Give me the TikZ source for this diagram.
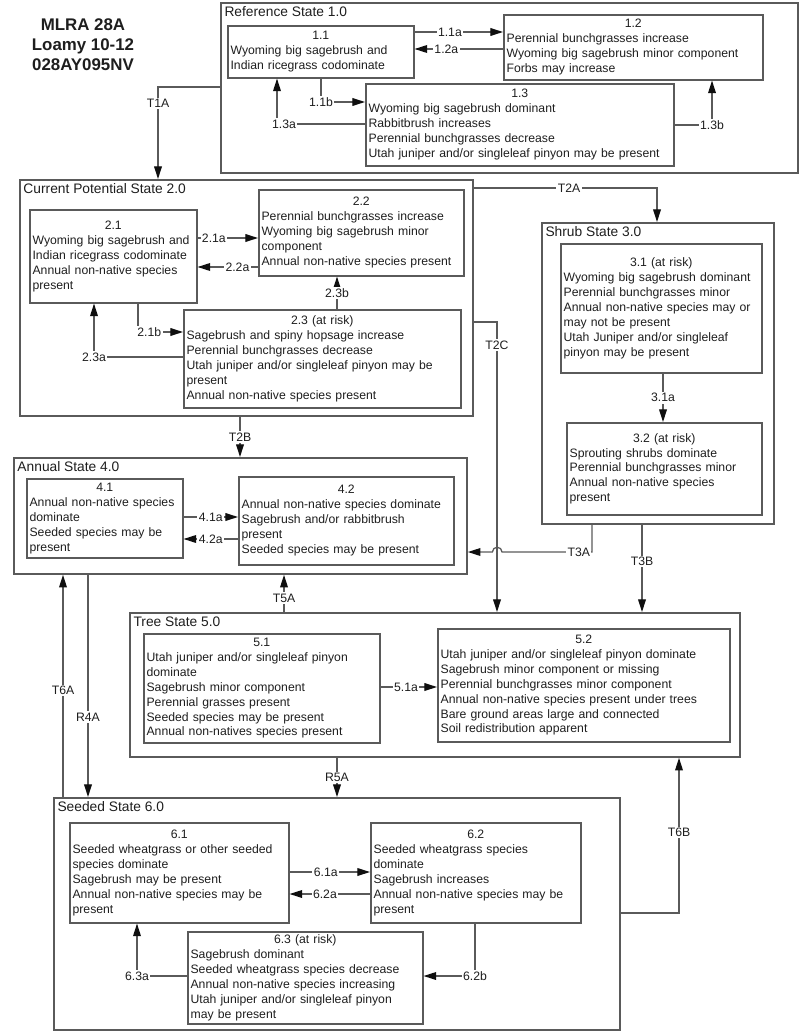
\documentclass[tikz,border=0pt]{standalone}
\usepackage{fontspec}
\setmainfont{Liberation Sans}
\usetikzlibrary{arrows.meta}
\definecolor{stmline}{RGB}{90,90,90}
\definecolor{stmtext}{RGB}{30,30,30}
\definecolor{stmtip}{RGB}{15,15,15}
\newcommand\stnum[1]{\hfill#1\hfill\null\\}

\begin{document}
\begin{tikzpicture}[
  x=0.025cm, y=-0.025cm,
  font=\fontsize{8.7}{10.6}\selectfont,
  text=stmtext,
  statebox/.style 2 args={draw=stmline, line width=1.3pt, anchor=north west,
    inner sep=0pt, minimum width=#1*0.025cm, minimum height=#2*0.025cm},
  phase/.style 2 args={draw=stmline, line width=1.1pt, anchor=north west,
    align=left, inner sep=2pt, text width=#1*0.025cm-4pt,
    minimum width=#1*0.025cm, minimum height=#2*0.025cm},
  stname/.style={anchor=north west, inner sep=3pt,
    font=\fontsize{9.8}{11}\selectfont},
  conn/.style={draw=stmline, line width=0.9pt,
    -{Triangle[length=9pt,width=5.5pt,color=stmtip]}},
  lbl/.style={fill=white, inner sep=1pt}
]
  \useasboundingbox (0,0) rectangle (800,1031);

  % site title
  \node[font=\fontsize{12}{14.2}\selectfont\bfseries, align=center] (site) at (83,45)
    {MLRA 28A\\Loamy 10-12\\028AY095NV};

  % states
  \node[statebox={577}{170}, label={[stname]north west:Reference State 1.0}] (ref) at (220,2) {};
  \node[statebox={453}{236}, label={[stname]north west:Current Potential State 2.0}] (cur) at (19,179) {};
  \node[statebox={232}{301}, label={[stname]north west:Shrub State 3.0}] (shr) at (541,222) {};
  \node[statebox={453}{116}, label={[stname]north west:Annual State 4.0}] (ann) at (13,457) {};
  \node[statebox={610}{144}, label={[stname]north west:Tree State 5.0}] (tre) at (129,612) {};
  \node[statebox={566}{232}, label={[stname]north west:Seeded State 6.0}] (see) at (53,797) {};

  % community phases
  \node[phase={186}{52}] (b11) at (227,25)
    {\stnum{1.1}Wyoming big sagebrush and\\Indian ricegrass codominate};
  \node[phase={259}{65}] (b12) at (503,14)
    {\stnum{1.2}Perennial bunchgrasses increase\\Wyoming big sagebrush minor component\\Forbs may increase};
  \node[phase={308}{82}] (b13) at (365,83)
    {\stnum{1.3}Wyoming big sagebrush dominant\\Rabbitbrush increases\\Perennial bunchgrasses decrease\\Utah juniper and/or singleleaf pinyon may be present};

  \node[phase={167}{93}] (b21) at (29,209)
    {\stnum{2.1}Wyoming big sagebrush and\\Indian ricegrass codominate\\Annual non-native species\\present};
  \node[phase={205}{86}] (b22) at (258,189)
    {\stnum{2.2}Perennial bunchgrasses increase\\Wyoming big sagebrush minor\\component\\Annual non-native species present};
  \node[phase={277}{98}] (b23) at (183,309)
    {\stnum{2.3 (at risk)}Sagebrush and spiny hopsage increase\\Perennial bunchgrasses decrease\\Utah juniper and/or singleleaf pinyon may be\\present\\Annual non-native species present};

  \node[phase={201}{129}] (b31) at (560,243)
    {\stnum{3.1 (at risk)}Wyoming big sagebrush dominant\\Perennial bunchgrasses minor\\Annual non-native species may or\\may not be present\\Utah Juniper and/or singleleaf\\pinyon may be present};
  \node[phase={195}{92}] (b32) at (566,422)
    {\stnum{3.2 (at risk)}Sprouting shrubs dominate\\Perennial bunchgrasses minor\\Annual non-native species\\present};

  \node[phase={156}{79}] (b41) at (26,478)
    {\stnum{4.1}Annual non-native species\\dominate\\Seeded species may be\\present};
  \node[phase={215}{88}] (b42) at (238,476)
    {\stnum{4.2}Annual non-native species dominate\\Sagebrush and/or rabbitbrush\\present\\Seeded species may be present};

  \node[phase={236}{109}] (b51) at (143,633)
    {\stnum{5.1}Utah juniper and/or singleleaf pinyon\\dominate\\Sagebrush minor component\\Perennial grasses present\\Seeded species may be present\\Annual non-natives species present};
  \node[phase={292}{113}] (b52) at (437,628)
    {\stnum{5.2}Utah juniper and/or singleleaf pinyon dominate\\Sagebrush minor component or missing\\Perennial bunchgrasses minor component\\Annual non-native species present under trees\\Bare ground areas large and connected\\Soil redistribution apparent};

  \node[phase={219}{100}] (b61) at (69,822)
    {\stnum{6.1}Seeded wheatgrass or other seeded\\species dominate\\Sagebrush may be present\\Annual non-native species may be\\present};
  \node[phase={210}{100}] (b62) at (370,822)
    {\stnum{6.2}Seeded wheatgrass species\\dominate\\Sagebrush increases\\Annual non-native species may be\\present};
  \node[phase={235}{92}] (b63) at (187,931)
    {\stnum{6.3 (at risk)}Sagebrush dominant\\Seeded wheatgrass species decrease\\Annual non-native species increasing\\Utah juniper and/or singleleaf pinyon\\may be present};

  % pathways within states
  \draw[conn] (b11.east |- 0,32) -- node[lbl,pos=0.4]{1.1a} (b12.west |- 0,32);
  \draw[conn] (b12.west |- 0,49) -- node[lbl,pos=0.64]{1.2a} (b11.east |- 0,49);
  \draw[conn] (b11.south -| 321,0) |- node[lbl]{1.1b} (b13.west |- 0,102);
  \draw[conn] (b13.west |- 0,124) -| node[lbl,xshift=5pt]{1.3a} (b11.south -| 277,0);
  \draw[conn] (b13.east |- 0,125) -| node[lbl]{1.3b} (b12.south -| 712,0);

  \draw[conn] (b21.east |- 0,238) -- node[lbl,pos=0.27]{2.1a} (b22.west |- 0,238);
  \draw[conn] (b22.west |- 0,267) -- node[lbl,pos=0.34]{2.2a} (b21.east |- 0,267);
  \draw[conn] (b21.south -| 138,0) |- node[lbl,xshift=8pt]{2.1b} (b23.west |- 0,332);
  \draw[conn] (b23.west |- 0,357) -| node[lbl]{2.3a} (b21.south -| 94,0);
  \draw[conn] (b23.north -| 337,0) -- node[lbl]{2.3b} (b22.south -| 337,0);

  \draw[conn] (b31.south -| 663,0) -- node[lbl]{3.1a} (b32.north -| 663,0);

  \draw[conn] (b41.east |- 0,517) -- node[lbl]{4.1a} (b42.west |- 0,517);
  \draw[conn] (b42.west |- 0,539) -- node[lbl]{4.2a} (b41.east |- 0,539);

  \draw[conn] (b51.east |- 0,687) -- node[lbl,pos=0.45]{5.1a} (b52.west |- 0,687);

  \draw[conn] (b61.east |- 0,872) -- node[lbl,pos=0.45]{6.1a} (b62.west |- 0,872);
  \draw[conn] (b62.west |- 0,894) -- node[lbl,pos=0.56]{6.2a} (b61.east |- 0,894);
  \draw[conn] (b63.west |- 0,976) -| node[lbl]{6.3a} (b61.south -| 137,0);
  \draw[conn] (b62.south -| 475,0) |- node[lbl]{6.2b} (b63.east |- 0,976);

  % transitions between states
  \draw[conn] (ref.west |- 0,87) -| node[lbl,pos=0.59]{T1A} (cur.north -| 158,0);
  \draw[conn] (cur.east |- 0,188) -| node[lbl,pos=0.26]{T2A} (shr.north -| 657,0);
  \draw[conn] (cur.east |- 0,322) -| node[lbl,pos=0.54]{T2C} (tre.north -| 497,0);
  \draw[conn] (cur.south -| 240,0) -- node[lbl]{T2B} (ann.north -| 240,0);
  \draw[conn] (shr.south -| 592,0) |- node[lbl,anchor=east]{T3A} (502,552)
    arc[start angle=0,end angle=180,radius=0.12cm] -- (ann.east |- 0,552);
  \draw[conn] (shr.south -| 642,0) -- node[lbl,pos=0.42]{T3B} (tre.north -| 642,0);
  \draw[conn] (tre.north -| 284,0) -- node[lbl,pos=0.38]{T5A} (ann.south -| 284,0);
  \draw[conn] (see.north -| 63,0) -- node[lbl,pos=0.48]{T6A} (ann.south -| 63,0);
  \draw[conn] (ann.south -| 88,0) -- node[lbl,pos=0.64]{R4A} (see.north -| 88,0);
  \draw[conn] (tre.south -| 337,0) -- node[lbl]{R5A} (see.north -| 337,0);
  \draw[conn] (see.east |- 0,913) -| node[lbl,pos=0.76]{T6B} (tre.south -| 679,0);
\end{tikzpicture}
\end{document}
